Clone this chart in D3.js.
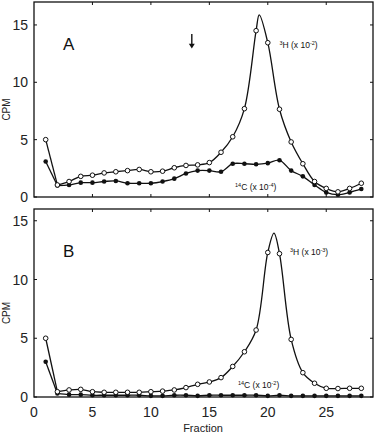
<!DOCTYPE html>
<html>
<head>
  <meta charset="UTF-8">
  <style>
    body { margin: 0; background: #fff; }
    svg { display: block; font-family: "Liberation Sans", Arial, sans-serif; }
  </style>
</head>
<body>
  <svg></svg>
<script src="https://d3js.org/d3.v7.min.js"></script>

<script>
let width = 376,
    height = 434;

let svg = d3.select("svg")
    .attr("width", width)
    .attr("height", height);

// fraction numbers
let fractions = [1,2,3,4,5,6,7,8,9,10,11,12,13,14,15,16,17,18,19,20,21,22,23,24,25,26,27,28];

// panel A
let h3A  = [5.0,1.05,1.35,1.8,1.9,2.1,2.2,2.3,2.4,2.2,2.25,2.55,2.75,2.8,3.0,3.9,5.25,7.7,14.5,13.45,7.65,4.8,2.9,1.35,0.75,0.45,0.75,1.2];
let c14A = [3.1,1.0,1.05,1.25,1.25,1.35,1.4,1.2,1.2,1.2,1.35,1.6,2.05,2.3,2.3,2.2,2.9,2.9,2.85,2.95,3.2,2.3,1.8,1.05,0.4,0.2,0.4,0.7];
let apexA = { f: 19.27, v: 15.87 };   // top of the drawn 3H curve
let arrowFraction = 13.5;

// panel B
let h3B  = [5.0,0.45,0.6,0.65,0.45,0.4,0.4,0.4,0.4,0.45,0.5,0.6,0.8,1.08,1.28,1.65,2.6,3.85,5.7,12.3,12.2,4.9,2.07,1.17,0.74,0.72,0.74,0.74];
let c14B = [3.0,0.3,0.2,0.2,0.15,0.15,0.15,0.15,0.15,0.1,0.1,0.15,0.15,0.1,0.15,0.15,0.15,0.15,0.15,0.1,0.15,0.1,0.1,0.1,0.1,0.1,0.1,0.1];
let apexB = { f: 20.53, v: 13.95 };

let yTicks = [0, 5, 10, 15];
let xTicks = [0, 5, 10, 15, 20, 25];

let x = d3.scaleLinear().domain([0, 29]).range([34, 373]);

function toPoints(vals) {
  return vals.map((v, i) => ({ f: fractions[i], v: v }));
}

function drawPanel(top, bottom, yMax, h3, c14, apex, letter, h3exp, c14exp, h3pos, c14pos, showX) {
  let y = d3.scaleLinear().domain([0, yMax]).range([bottom, top]);
  let g = svg.append("g");

  // frame
  g.append("rect")
    .attr("x", x(0)).attr("y", top)
    .attr("width", x(29) - x(0)).attr("height", bottom - top)
    .attr("fill", "none").attr("stroke", "#111").attr("stroke-width", 1.3);

  // y ticks both sides, pointing in
  yTicks.forEach(t => {
    g.append("line").attr("x1", x(0)).attr("x2", x(0) + 3)
      .attr("y1", y(t)).attr("y2", y(t)).attr("stroke", "#111");
    g.append("line").attr("x1", x(29)).attr("x2", x(29) - 3)
      .attr("y1", y(t)).attr("y2", y(t)).attr("stroke", "#111");
    g.append("text")
      .attr("x", 28).attr("y", y(t) + 5)
      .attr("text-anchor", "end")
      .attr("font-size", 14)
      .attr("fill", "#222")
      .text(t);
  });

  // x ticks top and bottom
  xTicks.slice(1).forEach(t => {
    g.append("line").attr("x1", x(t)).attr("x2", x(t))
      .attr("y1", top).attr("y2", top + 3).attr("stroke", "#111");
    g.append("line").attr("x1", x(t)).attr("x2", x(t))
      .attr("y1", bottom).attr("y2", bottom - 3).attr("stroke", "#111");
  });
  if (showX) {
    xTicks.forEach(t => {
      g.append("text")
        .attr("x", x(t)).attr("y", bottom + 20)
        .attr("text-anchor", "middle")
        .attr("font-size", 14)
        .attr("fill", "#222")
        .text(t);
    });
  }

  // CPM label
  g.append("text")
    .attr("transform", "translate(10," + ((top + bottom) / 2 + 10) + ") rotate(-90)")
    .attr("text-anchor", "middle")
    .attr("font-size", 10)
    .attr("fill", "#222")
    .text("CPM");

  g.append("text")
    .attr("x", 63).attr("y", top + 48)
    .attr("font-size", 17)
    .attr("fill", "#111")
    .text(letter);

  let straight = d3.line().x(d => x(d.f)).y(d => y(d.v));
  let smooth = d3.line().x(d => x(d.f)).y(d => y(d.v)).curve(d3.curveCatmullRom.alpha(0.5));

  let hp = toPoints(h3), cp = toPoints(c14);
  let hCurve = hp.slice(1);
  hCurve.splice(hCurve.findIndex(d => d.f > apex.f), 0, apex);

  [[cp, cp.slice(1)], [hp, hCurve]].forEach(pair => {
    g.append("path").attr("d", straight(pair[0].slice(0, 2)))
      .attr("fill", "none").attr("stroke", "#111").attr("stroke-width", 1.3);
    g.append("path").attr("d", smooth(pair[1]))
      .attr("fill", "none").attr("stroke", "#111").attr("stroke-width", 1.3);
  });

  g.selectAll(".c14").data(cp).enter().append("circle")
    .attr("cx", d => x(d.f)).attr("cy", d => y(d.v))
    .attr("r", 2.3).attr("fill", "#111");

  g.selectAll(".h3").data(hp).enter().append("circle")
    .attr("cx", d => x(d.f)).attr("cy", d => y(d.v))
    .attr("r", 2.3).attr("fill", "#fff").attr("stroke", "#111").attr("stroke-width", 1);

  // series labels
  function label(pos, iso, el, exp) {
    let t = g.append("text")
      .attr("x", x(pos[0])).attr("y", y(pos[1]))
      .attr("font-size", 8.5).attr("fill", "#111");
    t.append("tspan").attr("font-size", 5.5).attr("dy", -3).text(iso);
    t.append("tspan").attr("dy", 3).text(el + " (x 10");
    t.append("tspan").attr("font-size", 5.5).attr("dy", -3).text(exp);
    t.append("tspan").attr("dy", 3).text(")");
  }
  label(h3pos, "3", "H", h3exp);
  label(c14pos, "14", "C", c14exp);

  return y;
}

let yA = drawPanel(2, 197, 17, h3A, c14A, apexA, "A", "-2", "-4", [21.0, 13.0], [17.2, 0.6], false);

// arrow in panel A
svg.append("line")
  .attr("x1", x(arrowFraction)).attr("x2", x(arrowFraction))
  .attr("y1", yA(14.2)).attr("y2", yA(13.2))
  .attr("stroke", "#111").attr("stroke-width", 1.4);
svg.append("path")
  .attr("d", "M" + (x(arrowFraction) - 3) + "," + yA(13.35) + " L" + (x(arrowFraction) + 3) + "," + yA(13.35) + " L" + x(arrowFraction) + "," + yA(12.95) + "Z")
  .attr("fill", "#111");

drawPanel(209, 397, 16, h3B, c14B, apexB, "B", "-3", "-2", [21.9, 12.1], [17.45, 0.77], true);

svg.append("text")
  .attr("x", 203).attr("y", 432)
  .attr("text-anchor", "middle")
  .attr("font-size", 11)
  .attr("fill", "#222")
  .text("Fraction");
</script>
</body>
</html>
